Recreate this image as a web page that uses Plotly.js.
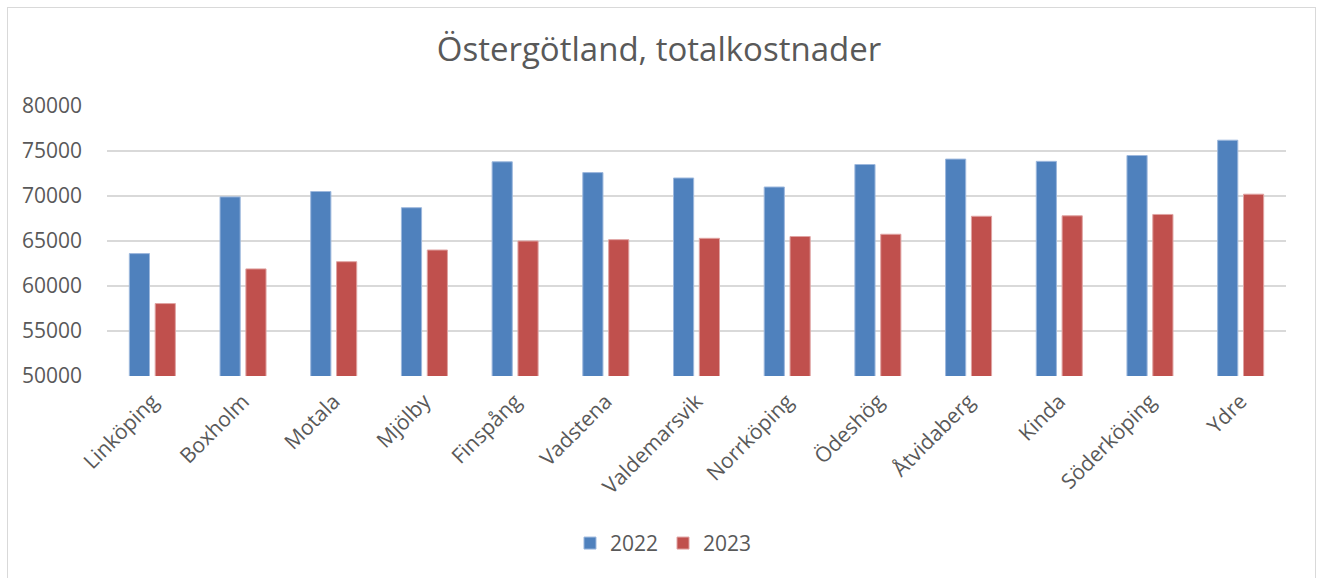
<!DOCTYPE html>
<html>
<head>
<meta charset="utf-8">
<script src="https://cdn.plot.ly/plotly-3.0.1.min.js"></script>
<style>
html,body{margin:0;padding:0;background:#fff;}
#chart{width:1318px;height:578px;}
#frame{position:absolute;left:7px;top:7px;width:1309px;height:580px;border:1px solid #d9d9d9;pointer-events:none;box-sizing:border-box;}
</style>
</head>
<body>
<div id="chart"></div>
<div id="frame"></div>
<script>
const categories = ["Linköping","Boxholm","Motala","Mjölby","Finspång","Vadstena","Valdemarsvik","Norrköping","Ödeshög","Åtvidaberg","Kinda","Söderköping","Ydre"];
const values2022 = [63600,69900,70500,68700,73800,72600,72000,71000,73500,74100,73850,74500,76200];
const values2023 = [58050,61900,62700,64000,65000,65150,65300,65500,65750,67750,67800,67950,70200];
const seriesNames = ["2022","2023"];
const yTicks = [50000,55000,60000,65000,70000,75000,80000];

const font = "'Open Sans', sans-serif";
const traces = [
  {type:"bar", name:seriesNames[0], x:categories, y:values2022,
   marker:{color:"#4F81BD", line:{color:"#9DB8DD", width:1}}},
  {type:"bar", name:seriesNames[1], x:categories, y:values2023,
   marker:{color:"#C0504D", line:{color:"#E0A3A2", width:1}}}
];
const layout = {
  width:1318, height:578,
  margin:{l:107, r:32, t:106, b:202},
  paper_bgcolor:"#fff", plot_bgcolor:"#fff",
  font:{family:font, color:"#595959", size:21},
  title:{text:"Östergötland, totalkostnader", x:0.5, xanchor:"center", y:0.915, yanchor:"middle",
         font:{family:font, size:33, color:"#595959"}},
  barmode:"group", bargap:0.43, bargroupgap:0.22,
  xaxis:{tickangle:-45, showgrid:false, zeroline:false, showline:false, ticks:"",
         tickfont:{size:21, color:"#595959"}, ticklabelstandoff:8, automargin:false},
  yaxis:{range:[50000,80000], tickvals:yTicks, ticktext:yTicks.map(String),
         showgrid:true, gridcolor:"#d9d9d9", gridwidth:1.5, zeroline:false, showline:false,
         ticks:"", tickfont:{size:21, color:"#595959"}, ticklabelstandoff:24, automargin:false},
  showlegend:true,
  legend:{orientation:"h", x:0.472, xanchor:"center", y:-0.62, yanchor:"middle",
          font:{size:21, color:"#595959"}, itemwidth:30, traceorder:"normal"}
};
Plotly.newPlot("chart", traces, layout, {displayModeBar:false, staticPlot:true});
</script>
</body>
</html>
